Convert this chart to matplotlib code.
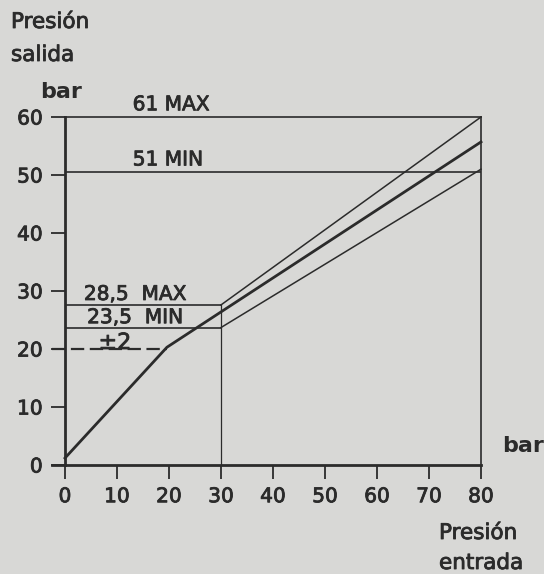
import matplotlib
matplotlib.use("Agg")
import matplotlib.pyplot as plt
import matplotlib.patheffects as pe

# ---- data ----
x_ticks = [0, 10, 20, 30, 40, 50, 60, 70, 80]
y_ticks = [0, 10, 20, 30, 40, 50, 60]

main_x = [0, 19.6, 80]          # regulated output (thick line)
main_y = [1.2, 20.3, 55.7]
upper_x = [30, 80]              # upper tolerance line
upper_y = [27.6, 60.0]
lower_x = [30, 80]              # lower tolerance line
lower_y = [23.7, 51.0]

level_max_hi = 60.0   # "61 MAX"
level_min_hi = 50.5   # "51 MIN"
level_max_lo = 27.6   # "28,5 MAX"
level_min_lo = 23.7   # "23,5 MIN"
level_nominal = 20.0  # dashed "±2"
x_knee_ref = 30.0
x_nominal_end = 19.6

lbl_max_hi = "61 MAX"
lbl_min_hi = "51 MIN"
lbl_max_lo = "28,5  MAX"
lbl_min_lo = "23,5  MIN"
lbl_tol = "±2"

BG = "#d8d8d6"
INK = "#2b2b2b"
FX = [pe.withStroke(linewidth=0.6, foreground=INK)]

W, H = 544, 574
fig = plt.figure(figsize=(W / 100, H / 100), dpi=100, facecolor=BG)
ax = fig.add_axes([65 / W, 109 / H, 416 / W, 348 / H], facecolor=BG)
ax.set_xlim(0, 80)
ax.set_ylim(0, 60)

for s in ["top", "right"]:
    ax.spines[s].set_visible(False)
for s in ["left", "bottom"]:
    ax.spines[s].set_linewidth(2.0)
    ax.spines[s].set_color(INK)
ax.spines["bottom"].set_bounds(0, 80)

ax.set_xticks(x_ticks)
ax.set_yticks(y_ticks)
ax.tick_params(axis="both", colors=INK, width=1.3, length=10, pad=6,
               labelsize=14.5, labelcolor=INK)
for lab in ax.get_xticklabels() + ax.get_yticklabels():
    lab.set_path_effects(FX)

# frame lines
ax.plot([0, 80], [level_max_hi, level_max_hi], color=INK, lw=1.2, clip_on=False)
ax.plot([80, 80], [0, level_max_hi], color=INK, lw=1.2, clip_on=False)
ax.plot([0, 80], [level_min_hi, level_min_hi], color=INK, lw=1.2)
ax.plot([0, x_knee_ref], [level_max_lo, level_max_lo], color=INK, lw=1.2)
ax.plot([0, x_knee_ref], [level_min_lo, level_min_lo], color=INK, lw=1.2)
ax.plot([x_knee_ref, x_knee_ref], [0, level_max_lo], color=INK, lw=0.9)
ax.plot([-2.5, x_nominal_end], [level_nominal, level_nominal], color=INK,
        lw=1.6, dashes=(6, 2.5), clip_on=False)
ax.plot([-2.5, 0], [0, 0], color=INK, lw=2.0, clip_on=False)

# curves
ax.plot(upper_x, upper_y, color=INK, lw=1.1, clip_on=False)
ax.plot(lower_x, lower_y, color=INK, lw=1.1, clip_on=False)
ax.plot(main_x, main_y, color=INK, lw=2.0, clip_on=False, solid_joinstyle="miter")

tkw = dict(color=INK, fontsize=14.5, ha="center", va="center", clip_on=False,
           path_effects=FX)
ax.text(20.4, 62.1, lbl_max_hi, **tkw)
ax.text(19.8, 52.6, lbl_min_hi, **tkw)
ax.text(13.5, 29.4, lbl_max_lo, **tkw)
ax.text(13.5, 25.4, lbl_min_lo, **tkw)
ax.text(9.6, level_nominal, lbl_tol, color=INK, fontsize=16, ha="center",
        va="baseline", clip_on=False, path_effects=FX)

# axis titles
fkw = dict(color=INK, fontsize=15.5, ha="left", va="center", path_effects=FX)
fig.text(11 / W, 1 - 22 / H, "Presión", **fkw)
fig.text(11 / W, 1 - 55 / H, "salida", **fkw)
fig.text(439 / W, 1 - 533 / H, "Presión", **fkw)
fig.text(439 / W, 1 - 563 / H, "entrada", **fkw)
bkw = dict(color=INK, fontsize=16, fontweight="bold", ha="center", va="center")
fig.text(61 / W, 1 - 92 / H, "bar", **bkw)
fig.text(523 / W, 1 - 446 / H, "bar", **bkw)

fig.savefig("out.png", dpi=100, facecolor=BG)
